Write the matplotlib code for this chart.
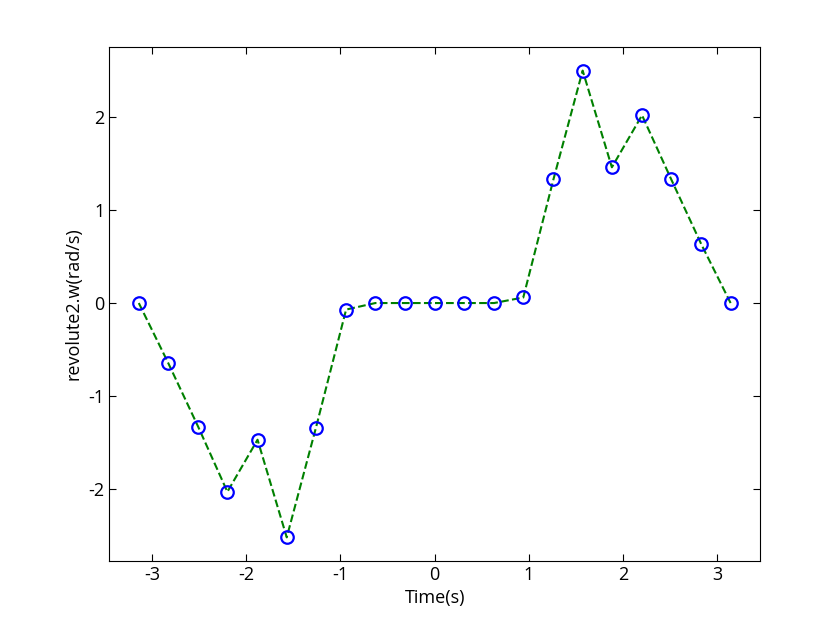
import matplotlib.pyplot as plt
import numpy as np

plt.rcParams['font.family'] = ['Open Sans', 'DejaVu Sans']
plt.rcParams['axes.unicode_minus'] = False

# time samples (s) and angular velocity (rad/s)
t = [-3.14, -2.83, -2.51, -2.20, -1.88, -1.57, -1.26, -0.94, -0.63, -0.31, 0.0,
     0.31, 0.63, 0.94, 1.26, 1.57, 1.88, 2.20, 2.51, 2.83, 3.14]
w = [0.0, -0.64, -1.33, -2.03, -1.47, -2.52, -1.34, -0.07, 0.0, 0.0, 0.0,
     0.0, 0.0, 0.06, 1.33, 2.50, 1.46, 2.02, 1.33, 0.63, 0.0]

fig = plt.figure(figsize=(8.4, 6.3), dpi=100)
ax = fig.add_axes([0.13, 0.11, 0.775, 0.815])
ax.plot(t, w, '--', color='green', lw=1.5, zorder=2)
ax.plot(t, w, 'o', mfc='none', mec='blue', ms=9, mew=1.6, zorder=3)
ax.set_xticks([-3, -2, -1, 0, 1, 2, 3])
ax.set_yticks([-2, -1, 0, 1, 2])
ax.tick_params(direction='in', top=True, right=True, labelsize=13, length=5)
ax.set_xlabel('Time(s)', fontsize=13)
ax.set_ylabel('revolute2.w(rad/s)', fontsize=13)
fig.savefig('out.png')
